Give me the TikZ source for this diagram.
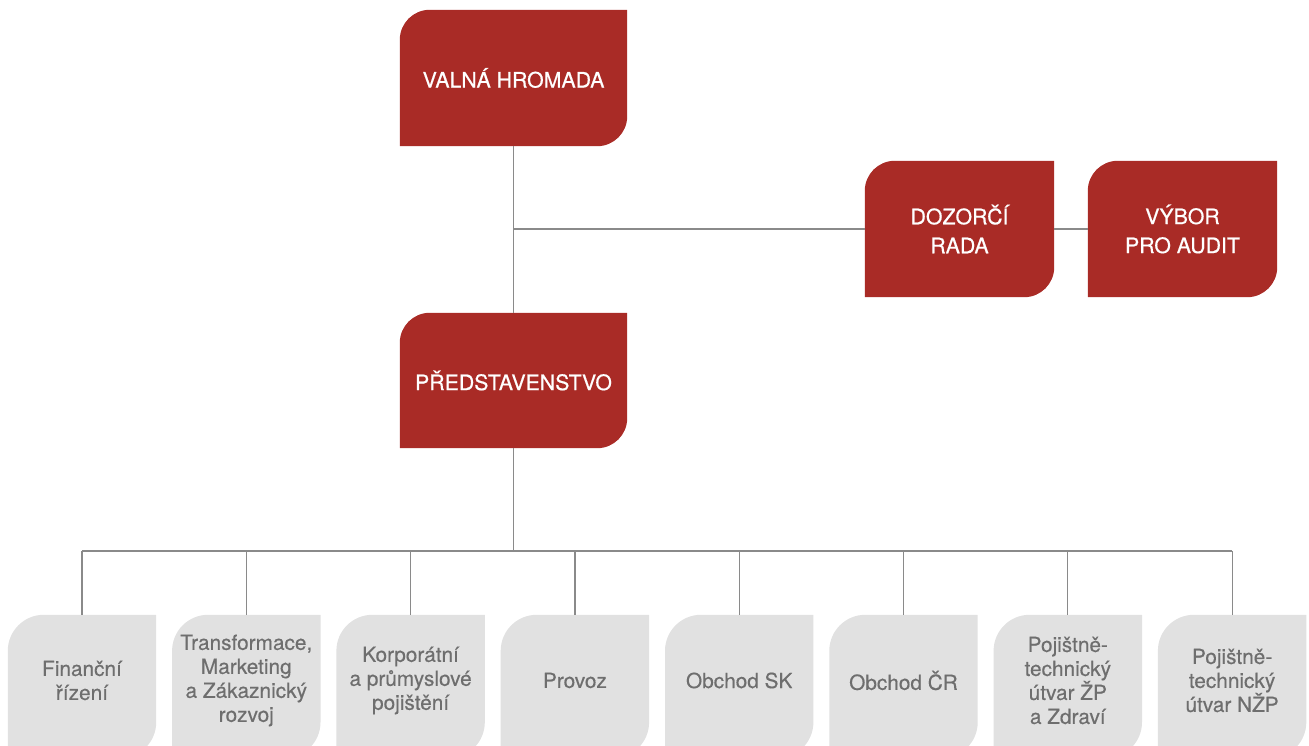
\documentclass[tikz,border=0pt]{standalone}
\usepackage{fontspec}
\setmainfont{TeX Gyre Heros}
\newfontfamily\boardfont[FakeBold=0.6]{TeX Gyre Heros}
\newfontfamily\unitfont[FakeBold=0.4]{TeX Gyre Heros}
\usetikzlibrary{backgrounds}

\definecolor{boardred}{HTML}{A92B26}
\definecolor{unitgrey}{HTML}{E1E1E1}
\definecolor{unittext}{HTML}{6E6E6E}
\definecolor{linkgrey}{HTML}{8A8A8A}

% leaf shape: node, fill, corner radius, extra depth below
\newcommand{\leafshape}[4]{%
  \fill[#2] ([yshift=-#4pt]#1.south west) -- ([yshift=-#3pt]#1.north west)
    arc[start angle=180, end angle=90, radius=#3] -- (#1.north east)
    -- ([yshift={#3pt-#4pt}]#1.south east) arc[start angle=0, end angle=-90, radius=#3] -- cycle;}

\begin{document}
\begin{tikzpicture}[x=1pt, y=1pt,
  boxtext/.style={align=center, inner sep=0pt},
  redbox/.style={boxtext, text=white, minimum height=136pt, font=\boardfont\fontsize{21.3}{29}\selectfont},
  unitbox/.style={boxtext, text=unittext, minimum width=148pt, minimum height=131pt, font=\unitfont\fontsize{20.8}{24}\selectfont},
  link/.style={draw=linkgrey, line width=1.2pt}]

\useasboundingbox (0,0) rectangle (1309,746);

% BOARDS
\node[redbox, minimum width=227pt] (valna) at (513.5,668) {VALNÁ HROMADA};
\node[redbox, minimum width=227pt, minimum height=135pt] (predst) at (513.5,365.5) {PŘEDSTAVENSTVO};
\node[redbox, minimum width=189pt] (dozorci) at (959.5,517) {DOZORČÍ\\RADA};
\node[redbox, minimum width=189pt] (vybor) at (1182.5,517) {VÝBOR\\PRO AUDIT};

% UNITS
\foreach \txt [count=\i] in {{Finanční\\řízení}, {Transformace,\\Marketing\\a Zákaznický\\rozvoj},
    {Korporátní\\a průmyslové\\pojištění}, {Provoz}, {Obchod SK}, {Obchod ČR},
    {Pojištně-\\technický\\útvar ŽP\\a Zdraví}, {Pojištně-\\technický\\útvar NŽP}}
  \node[unitbox] (unit\i) at ({82+164.3*(\i-1)},65.5) {\txt};

% SHAPES
\begin{scope}[on background layer]
  \foreach \n in {valna, predst, dozorci, vybor}
    {\leafshape{\n}{boardred}{30}{0}}
  \foreach \i in {1,...,8}
    {\leafshape{unit\i}{unitgrey}{36}{12}}
\end{scope}

% LINKS
\coordinate (bus) at (512,195);
\draw[link] (valna) -- (predst);
\draw[link] (valna |- dozorci) -- (dozorci);
\draw[link] (dozorci) -- (vybor);
\draw[link] (predst) -- (predst |- bus);
\draw[link] (unit1 |- bus) -- (unit8 |- bus);
\foreach \i in {1,...,8}
  \draw[link] (unit\i) -- (unit\i |- bus);

\end{tikzpicture}
\end{document}
